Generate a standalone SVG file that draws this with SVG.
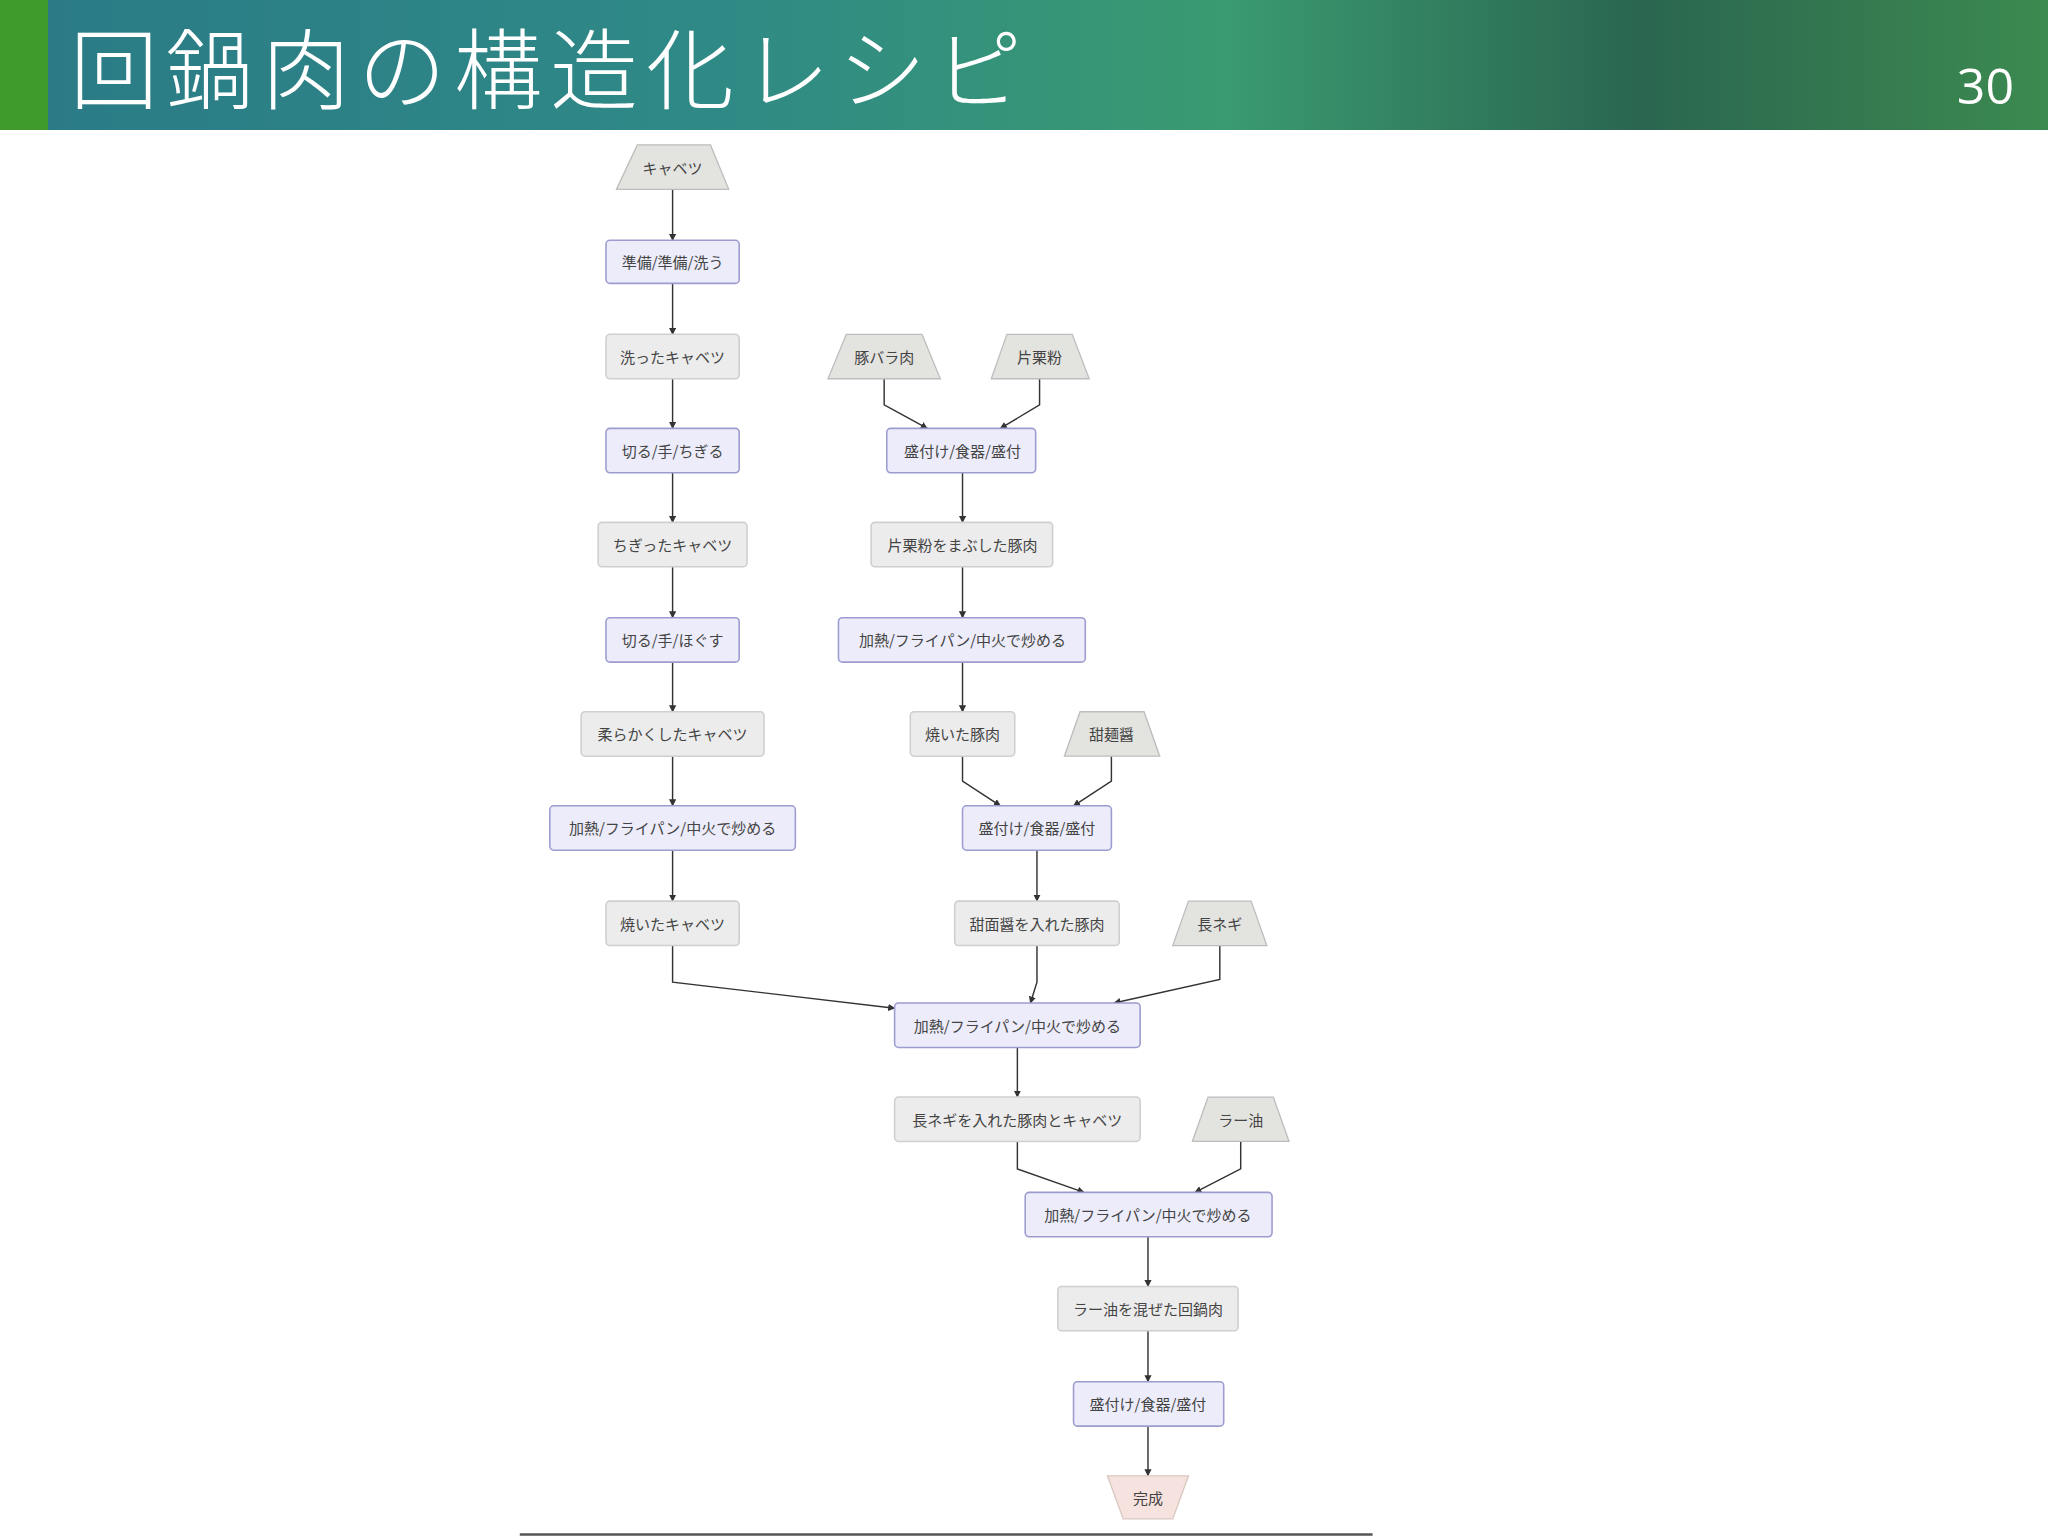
<svg xmlns="http://www.w3.org/2000/svg" width="2048" height="1536" viewBox="0 0 2048 1536">
<defs>
<linearGradient id="hdr" x1="0" y1="0" x2="1" y2="0">
<stop offset="0" stop-color="#2a7a86"/><stop offset="0.35" stop-color="#2f8a86"/><stop offset="0.6" stop-color="#3a9a70"/><stop offset="0.8" stop-color="#2a6650"/><stop offset="1" stop-color="#3c8a50"/>
</linearGradient>
<marker id="ah" viewBox="0 0 10 10" refX="9" refY="5" markerWidth="5" markerHeight="5" orient="auto"><path d="M0,0 L10,5 L0,10 z" fill="#333"/></marker>
<style>
text{font-family:"Noto Sans CJK JP","Noto Sans",sans-serif}
.t{font-size:11.5px;fill:#444;text-anchor:middle;dominant-baseline:central}
.act{fill:#ececfa;stroke:#9c9cd0;stroke-width:1.2}
.prd{fill:#ececec;stroke:#cfcfcf;stroke-width:1.2}
.inp{fill:#e3e3e0;stroke:#bdbdbd;stroke-width:1}
.fin{fill:#f6e2de;stroke:#d8c8c0;stroke-width:1}
.e{fill:none;stroke:#333;stroke-width:1.1;marker-end:url(#ah)}
</style>
</defs>
<rect width="2048" height="1536" fill="#fff"/>
<rect width="2048" height="130" fill="url(#hdr)"/>
<rect width="48" height="130" fill="#3e9a2a"/>
<text x="70" y="102" font-size="88" fill="#fff" letter-spacing="8" style="font-family:'Noto Sans CJK JP',sans-serif;font-weight:300">回鍋肉の構造化レシピ</text>
<text x="2014" y="104" font-size="50" fill="#fff" text-anchor="end" style="font-family:'Open Sans',sans-serif">30</text>
<g transform="scale(1.306)">
<g id="connectors">
<path class="e" d="M515,145 V184"/><path class="e" d="M515,217 V256"/><path class="e" d="M515,290 V328"/><path class="e" d="M515,362 V400"/><path class="e" d="M515,434 V473"/><path class="e" d="M515,507 V545"/><path class="e" d="M515,579 V617"/><path class="e" d="M515,651 V690"/>
<path class="e" d="M515,724 V752 L685,772"/>
<path class="e" d="M677,290 V310 L710,328"/><path class="e" d="M796,290 V310 L766,328"/>
<path class="e" d="M737,362 V400"/><path class="e" d="M737,434 V473"/><path class="e" d="M737,507 V545"/>
<path class="e" d="M737,579 V598 L766,617"/><path class="e" d="M851,579 V598 L822,617"/>
<path class="e" d="M794,651 V690"/>
<path class="e" d="M794,724 V752 L789,768"/><path class="e" d="M934,724 V750 L853,768"/>
<path class="e" d="M779,802 V840"/>
<path class="e" d="M779,874 V895 L830,913"/><path class="e" d="M950,874 V895 L915,913"/>
<path class="e" d="M879,947 V985"/><path class="e" d="M879,1019 V1058"/><path class="e" d="M879,1092 V1130"/>
</g>
<g id="n1"><polygon class="inp" points="488,111 544,111 558,145 472,145"/><text class="t" x="515" y="128">キャベツ</text></g>
<g id="n2"><rect class="act" x="464" y="184" width="102" height="33" rx="3"/><text class="t" x="515" y="200">準備/準備/洗う</text></g>
<g id="n3"><rect class="prd" x="464" y="256" width="102" height="34" rx="3"/><text class="t" x="515" y="273">洗ったキャベツ</text></g>
<g id="n4"><rect class="act" x="464" y="328" width="102" height="34" rx="3"/><text class="t" x="515" y="345">切る/手/ちぎる</text></g>
<g id="n5"><rect class="prd" x="458" y="400" width="114" height="34" rx="3"/><text class="t" x="515" y="417">ちぎったキャベツ</text></g>
<g id="n6"><rect class="act" x="464" y="473" width="102" height="34" rx="3"/><text class="t" x="515" y="490">切る/手/ほぐす</text></g>
<g id="n7"><rect class="prd" x="445" y="545" width="140" height="34" rx="3"/><text class="t" x="515" y="562">柔らかくしたキャベツ</text></g>
<g id="n8"><rect class="act" x="421" y="617" width="188" height="34" rx="3"/><text class="t" x="515" y="634">加熱/フライパン/中火で炒める</text></g>
<g id="n9"><rect class="prd" x="464" y="690" width="102" height="34" rx="3"/><text class="t" x="515" y="707">焼いたキャベツ</text></g>
<g id="m1"><polygon class="inp" points="648,256 706,256 720,290 634,290"/><text class="t" x="677" y="273">豚バラ肉</text></g>
<g id="m2"><polygon class="inp" points="771,256 821,256 834,290 759,290"/><text class="t" x="796" y="273">片栗粉</text></g>
<g id="m3"><rect class="act" x="679" y="328" width="114" height="34" rx="3"/><text class="t" x="737" y="345">盛付け/食器/盛付</text></g>
<g id="m4"><rect class="prd" x="667" y="400" width="139" height="34" rx="3"/><text class="t" x="737" y="417">片栗粉をまぶした豚肉</text></g>
<g id="m5"><rect class="act" x="642" y="473" width="189" height="34" rx="3"/><text class="t" x="737" y="490">加熱/フライパン/中火で炒める</text></g>
<g id="m6"><rect class="prd" x="697" y="545" width="80" height="34" rx="3"/><text class="t" x="737" y="562">焼いた豚肉</text></g>
<g id="m7"><polygon class="inp" points="827,545 876,545 888,579 815,579"/><text class="t" x="851" y="562">甜麺醤</text></g>
<g id="m8"><rect class="act" x="737" y="617" width="114" height="34" rx="3"/><text class="t" x="794" y="634">盛付け/食器/盛付</text></g>
<g id="m9"><rect class="prd" x="731" y="690" width="126" height="34" rx="3"/><text class="t" x="794" y="707">甜面醤を入れた豚肉</text></g>
<g id="m10"><polygon class="inp" points="910,690 958,690 970,724 898,724"/><text class="t" x="934" y="707">長ネギ</text></g>
<g id="c1"><rect class="act" x="685" y="768" width="188" height="34" rx="3"/><text class="t" x="779" y="785">加熱/フライパン/中火で炒める</text></g>
<g id="c2"><rect class="prd" x="685" y="840" width="188" height="34" rx="3"/><text class="t" x="779" y="857">長ネギを入れた豚肉とキャベツ</text></g>
<g id="c3"><polygon class="inp" points="925,840 975,840 987,874 913,874"/><text class="t" x="950" y="857">ラー油</text></g>
<g id="c4"><rect class="act" x="785" y="913" width="189" height="34" rx="3"/><text class="t" x="879" y="930">加熱/フライパン/中火で炒める</text></g>
<g id="c5"><rect class="prd" x="810" y="985" width="138" height="34" rx="3"/><text class="t" x="879" y="1002">ラー油を混ぜた回鍋肉</text></g>
<g id="c6"><rect class="act" x="822" y="1058" width="115" height="34" rx="3"/><text class="t" x="879" y="1075">盛付け/食器/盛付</text></g>
<g id="c7"><polygon class="fin" points="848,1130 910,1130 898,1163 860,1163"/><text class="t" x="879" y="1147">完成</text></g>
<line x1="398" y1="1175" x2="1051" y2="1175" stroke="#555" stroke-width="2"/>
</g>
</svg>
